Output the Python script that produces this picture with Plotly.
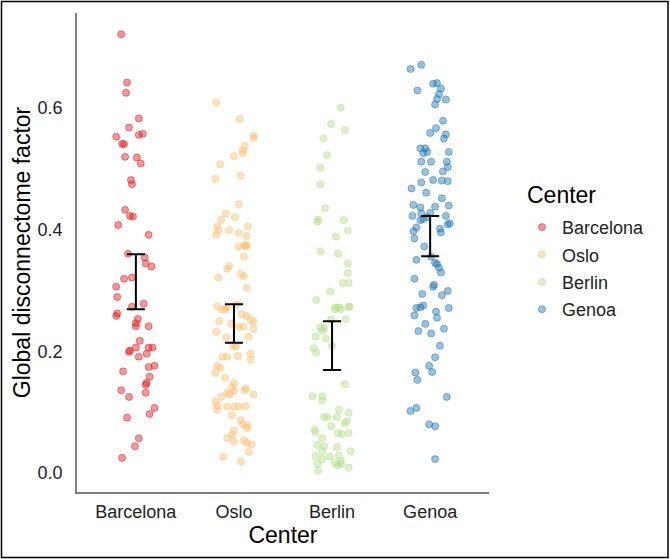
import plotly.graph_objects as go

categories = ["Barcelona", "Oslo", "Berlin", "Genoa"]
colors = ["227,26,28", "253,191,111", "178,223,138", "31,120,180"]

barcelona_values = [0.720, 0.641, 0.624, 0.582, 0.567, 0.552, 0.540, 0.540, 0.555, 0.557,
                    0.519, 0.518, 0.508, 0.481, 0.474, 0.432, 0.422, 0.421, 0.407, 0.391,
                    0.360, 0.354, 0.344, 0.339, 0.319, 0.321, 0.306, 0.289, 0.278, 0.273,
                    0.262, 0.258, 0.253, 0.246, 0.241, 0.241, 0.217, 0.201, 0.199, 0.206,
                    0.206, 0.206, 0.191, 0.196, 0.174, 0.176, 0.167, 0.158, 0.148, 0.145,
                    0.136, 0.132, 0.125, 0.107, 0.097, 0.091, 0.057, 0.044, 0.025]
barcelona_jitter = [-0.15, -0.09, -0.10, 0.03, -0.07, -0.20, -0.14, -0.12, 0.03, 0.07,
                    -0.11, 0.01, 0.05, -0.05, -0.04, -0.11, -0.06, -0.03, -0.18, 0.13,
                    -0.08, 0.09, 0.10, 0.16, -0.12, -0.04, -0.20, -0.19, 0.08, -0.04,
                    -0.19, -0.20, 0.02, 0.00, 0.00, 0.13, 0.04, -0.06, -0.07, 0.00,
                    0.13, 0.17, 0.03, 0.11, 0.13, 0.19, -0.13, 0.14, 0.11, 0.10,
                    -0.15, 0.10, -0.07, 0.19, 0.14, -0.09, 0.03, -0.01, -0.14]

oslo_values = [0.608, 0.581, 0.554, 0.550, 0.537, 0.530, 0.525, 0.520, 0.507, 0.488,
               0.483, 0.441, 0.426, 0.420, 0.416, 0.405, 0.405, 0.399, 0.398, 0.394,
               0.391, 0.389, 0.374, 0.374, 0.372, 0.372, 0.355, 0.340, 0.335, 0.327,
               0.323, 0.321, 0.304, 0.274, 0.268, 0.269, 0.277, 0.272, 0.261, 0.258,
               0.251, 0.249, 0.249, 0.245, 0.240, 0.240, 0.237, 0.232, 0.223, 0.224,
               0.208, 0.209, 0.196, 0.191, 0.191, 0.192, 0.186, 0.176, 0.173, 0.164,
               0.156, 0.148, 0.139, 0.136, 0.141, 0.135, 0.132, 0.129, 0.129, 0.125,
               0.117, 0.111, 0.109, 0.109, 0.109, 0.110, 0.104, 0.095, 0.087, 0.080,
               0.074, 0.078, 0.070, 0.063, 0.057, 0.054, 0.050, 0.052, 0.047, 0.035,
               0.027, 0.019]
oslo_jitter = [-0.18, 0.06, 0.20, 0.20, 0.11, 0.09, 0.09, 0.00, -0.14, 0.07,
               -0.19, 0.05, -0.08, 0.01, -0.13, -0.17, 0.14, -0.05, -0.16, 0.05,
               -0.18, 0.13, 0.11, 0.13, 0.12, 0.05, 0.10, -0.05, -0.07, 0.07,
               0.10, -0.16, 0.13, -0.17, -0.12, -0.09, 0.03, -0.07, 0.08, 0.13,
               0.17, 0.20, -0.15, -0.03, 0.05, 0.10, 0.20, -0.18, -0.08, 0.15,
               0.02, -0.01, 0.17, -0.12, -0.07, 0.04, 0.17, -0.17, -0.14, -0.19,
               -0.09, 0.00, 0.12, 0.11, -0.02, 0.00, -0.07, -0.04, 0.20, -0.13,
               -0.19, -0.17, -0.07, 0.00, 0.05, 0.12, -0.17, -0.02, 0.07, 0.09,
               0.13, 0.14, 0.00, -0.02, -0.07, 0.10, 0.13, 0.00, 0.18, 0.15,
               -0.11, 0.07]

berlin_values = [0.600, 0.573, 0.563, 0.549, 0.522, 0.501, 0.474, 0.435, 0.416, 0.413,
                 0.415, 0.398, 0.388, 0.364, 0.360, 0.344, 0.328, 0.312, 0.312, 0.298,
                 0.284, 0.272, 0.272, 0.273, 0.273, 0.269, 0.269, 0.253, 0.252, 0.239,
                 0.238, 0.234, 0.224, 0.221, 0.209, 0.205, 0.198, 0.146, 0.126, 0.126,
                 0.119, 0.104, 0.099, 0.092, 0.092, 0.092, 0.082, 0.085, 0.071, 0.067,
                 0.077, 0.066, 0.064, 0.066, 0.057, 0.046, 0.044, 0.036, 0.043, 0.036,
                 0.028, 0.023, 0.027, 0.029, 0.020, 0.016, 0.013, 0.015, 0.009, 0.004,
                 0.015]
berlin_jitter = [0.09, -0.01, 0.13, -0.09, -0.05, -0.12, -0.12, -0.07, -0.14, -0.15,
                 0.12, 0.16, 0.04, -0.12, 0.06, 0.16, 0.16, 0.11, 0.17, -0.02,
                 -0.16, 0.04, 0.07, 0.17, 0.18, 0.03, 0.09, 0.14, -0.01, -0.12,
                 -0.08, -0.10, -0.17, -0.06, 0.00, -0.19, -0.16, 0.13, -0.20, -0.10,
                 -0.10, 0.07, 0.17, -0.08, -0.05, 0.05, 0.13, 0.15, -0.18, -0.17,
                 -0.01, 0.06, 0.10, 0.17, -0.10, -0.15, -0.08, -0.10, 0.05, 0.19,
                 -0.17, -0.10, -0.02, 0.07, 0.09, 0.03, 0.06, 0.09, 0.17, -0.14,
                 -0.15]

genoa_values = [0.670, 0.663, 0.628, 0.639, 0.640, 0.631, 0.622, 0.614, 0.613, 0.605,
                0.578, 0.566, 0.558, 0.556, 0.549, 0.533, 0.533, 0.527, 0.525, 0.527,
                0.511, 0.511, 0.511, 0.502, 0.495, 0.494, 0.481, 0.480, 0.479, 0.477,
                0.467, 0.460, 0.451, 0.440, 0.436, 0.437, 0.439, 0.427, 0.426, 0.422,
                0.420, 0.417, 0.415, 0.422, 0.410, 0.408, 0.403, 0.397, 0.385, 0.401,
                0.395, 0.372, 0.355, 0.345, 0.343, 0.337, 0.329, 0.350, 0.319, 0.309,
                0.306, 0.299, 0.292, 0.294, 0.275, 0.271, 0.272, 0.271, 0.265, 0.259,
                0.255, 0.245, 0.237, 0.233, 0.229, 0.209, 0.190, 0.176, 0.166, 0.165,
                0.153, 0.125, 0.102, 0.107, 0.080, 0.077, 0.023]
genoa_jitter = [-0.09, -0.20, -0.13, 0.03, 0.07, 0.11, 0.09, 0.07, 0.16, 0.05,
                0.13, 0.06, 0.00, 0.16, 0.14, -0.10, -0.05, -0.03, -0.07, 0.19,
                -0.09, 0.01, 0.17, 0.18, 0.13, -0.05, 0.03, 0.12, 0.18, -0.09,
                -0.19, -0.04, 0.12, -0.17, -0.10, 0.05, 0.19, 0.00, -0.09, -0.18,
                -0.03, -0.07, -0.10, 0.16, 0.20, 0.18, -0.14, -0.17, -0.16, 0.10,
                0.11, -0.06, 0.01, 0.05, 0.07, 0.09, 0.11, -0.14, -0.16, 0.04,
                0.03, 0.18, 0.12, -0.08, -0.07, -0.14, -0.10, 0.19, 0.06, -0.16,
                0.07, -0.05, 0.14, -0.12, 0.01, 0.10, 0.05, -0.01, 0.02, -0.15,
                -0.13, 0.17, -0.20, -0.14, -0.01, 0.05, 0.05]

ci_lower = [0.269, 0.214, 0.169, 0.356]
ci_upper = [0.359, 0.277, 0.249, 0.422]

values = [barcelona_values, oslo_values, berlin_values, genoa_values]
jitters = [barcelona_jitter, oslo_jitter, berlin_jitter, genoa_jitter]

FONT = "Liberation Sans, Arial, sans-serif"

fig = go.Figure()
for i, (name, col) in enumerate(zip(categories, colors)):
    fig.add_trace(go.Scatter(
        x=[i + j for j in jitters[i]],
        y=values[i],
        mode="markers",
        name=name,
        marker=dict(size=7, color=f"rgba({col},0.45)",
                    line=dict(width=1, color=f"rgba({col},0.5)")),
        legendgroup=name,
    ))

mids = [(lo + hi) / 2 for lo, hi in zip(ci_lower, ci_upper)]
fig.add_trace(go.Scatter(
    x=list(range(len(categories))),
    y=mids,
    mode="markers",
    marker=dict(size=1, color="rgba(0,0,0,0)"),
    showlegend=False,
    hoverinfo="skip",
    error_y=dict(type="data", symmetric=False,
                 array=[hi - m for hi, m in zip(ci_upper, mids)],
                 arrayminus=[m - lo for lo, m in zip(ci_lower, mids)],
                 color="black", thickness=2, width=9),
))

fig.update_layout(
    width=670, height=559,
    margin=dict(l=77, r=181, t=13, b=67),
    paper_bgcolor="white", plot_bgcolor="white",
    font=dict(family=FONT, color="black"),
    showlegend=True,
    legend=dict(
        font=dict(size=18, color="#222222"),
        x=1.08, xanchor="left", y=0.591, yanchor="top",
        tracegroupgap=1,
        bgcolor="rgba(0,0,0,0)",
    ),
    annotations=[dict(text="Center", xref="paper", yref="paper",
                      x=(525 - 77) / 412, y=(492 - 195) / 479,
                      xanchor="left", yanchor="middle", showarrow=False,
                      font=dict(size=23, color="black"))],
    xaxis=dict(
        range=[-0.6, 3.6],
        tickmode="array", tickvals=list(range(len(categories))), ticktext=categories,
        tickfont=dict(size=18, color="#222222"),
        ticks="outside", ticklen=3, tickcolor="rgba(0,0,0,0)",
        showline=True, linecolor="#7f7f7f", linewidth=1.5,
        showgrid=False, zeroline=False,
        title=dict(text="Center", font=dict(size=23, color="black"), standoff=2),
    ),
    yaxis=dict(
        range=[-0.031, 0.755],
        tickmode="array", tickvals=[0.0, 0.2, 0.4, 0.6],
        ticktext=["0.0", "0.2", "0.4", "0.6"],
        tickfont=dict(size=18, color="#222222"),
        ticks="outside", ticklen=9, tickcolor="rgba(0,0,0,0)",
        showline=True, linecolor="#7f7f7f", linewidth=1.5,
        showgrid=False, zeroline=False,
        title=dict(text="Global disconnectome factor", font=dict(size=23, color="black"), standoff=1),
    ),
    shapes=[dict(type="rect", xref="paper", yref="paper",
                 x0=-75.5 / 412, x1=591 / 412, y0=-65.5 / 479, y1=490.5 / 479,
                 line=dict(color="black", width=1.5), fillcolor="rgba(0,0,0,0)")],
)

fig.write_html("out.html", config={"displayModeBar": False},
               post_script="document.body.style.margin='0';")
